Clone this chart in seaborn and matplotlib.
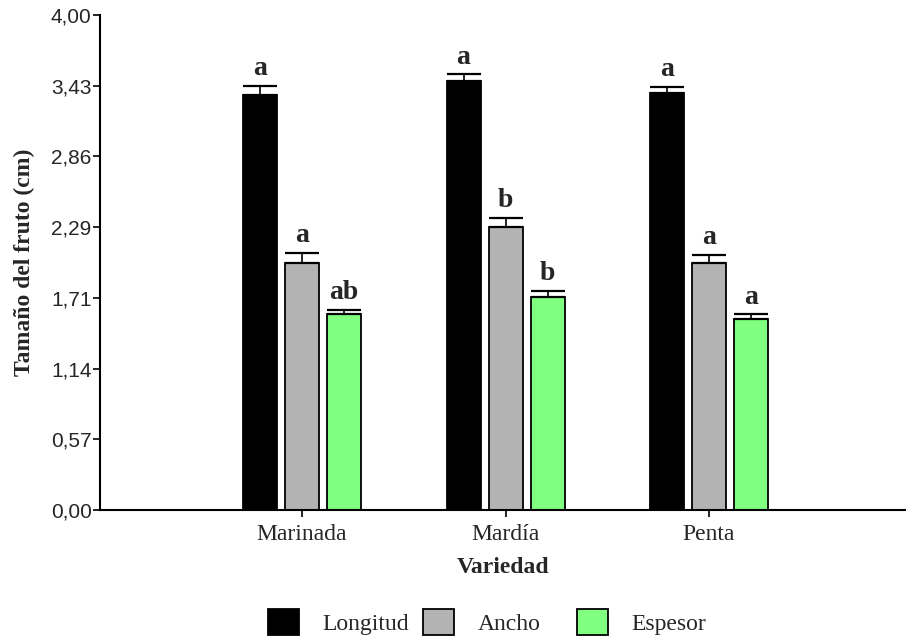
import numpy as np
import pandas as pd
import matplotlib
matplotlib.use('Agg')
import matplotlib.pyplot as plt
import seaborn as sns
from matplotlib.patches import Patch

variedades = ['Marinada', 'Mardía', 'Penta']
medidas = ['Longitud', 'Ancho', 'Espesor']

# mean values (cm) per medida, in the order of variedades
longitud = [3.35, 3.47, 3.37]
ancho = [2.00, 2.29, 2.00]
espesor = [1.58, 1.72, 1.54]

# standard error (upper half only is drawn)
err_longitud = [0.08, 0.05, 0.05]
err_ancho = [0.08, 0.07, 0.06]
err_espesor = [0.04, 0.05, 0.04]

# letters of mean separation
let_longitud = ['a', 'a', 'a']
let_ancho = ['a', 'b', 'a']
let_espesor = ['ab', 'b', 'a']

y_ticks = np.linspace(0, 4, 8)
y_ticklabels = [f'{t:.2f}'.replace('.', ',') for t in y_ticks]

colores = {'Longitud': '#000000', 'Ancho': '#b3b3b3', 'Espesor': '#80ff80'}

df = pd.DataFrame({
    'Variedad': variedades * 3,
    'Medida': np.repeat(medidas, 3),
    'Valor': longitud + ancho + espesor,
})
errores = [err_longitud, err_ancho, err_espesor]
letras = [let_longitud, let_ancho, let_espesor]

sns.set_style('white')
serif = ['Liberation Serif', 'DejaVu Serif']
sans = ['Liberation Sans', 'DejaVu Sans']
plt.rcParams['font.family'] = sans

fig = plt.figure(figsize=(9.06, 6.39), dpi=100)
ax = fig.add_axes([100 / 906, 1 - 510 / 639, 806 / 906, 495 / 639])

sns.barplot(
    data=df, x='Variedad', y='Valor', hue='Medida',
    order=variedades, hue_order=medidas, palette=colores, saturation=1,
    width=0.619, gap=0.19, edgecolor='black', linewidth=1.3,
    errorbar=None, legend=False, ax=ax
)

for cont, errs, lets in zip(ax.containers, errores, letras):
    for bar, e, l in zip(cont, errs, lets):
        x = bar.get_x() + bar.get_width() / 2
        top = bar.get_height()
        ax.errorbar(x, top, yerr=[[0], [e]], color='black', lw=1.2,
                    capsize=12, capthick=1.6, fmt='none', zorder=3)
        ax.annotate(l, (x, top + e), xytext=(0, 3.5), textcoords='offset points',
                    ha='center', va='bottom', fontsize=20, fontweight='bold',
                    family=serif)

ax.set_xlim(-0.993, 2.968)
ax.set_ylim(0, 4)
ax.set_yticks(y_ticks)
ax.set_yticklabels(y_ticklabels, fontsize=15, family=sans)
ax.set_xticks(range(len(variedades)))
ax.set_xticklabels(variedades, fontsize=17, family=serif)

for side in ['top', 'right']:
    ax.spines[side].set_visible(False)
for side in ['left', 'bottom']:
    ax.spines[side].set_linewidth(1.5)
    ax.spines[side].set_color('black')
ax.tick_params(axis='both', which='major', direction='out', length=5,
               width=1.2, color='black', left=True, bottom=True)
ax.tick_params(axis='y', pad=1)
ax.tick_params(axis='x', pad=5)

ax.set_xlabel('Variedad', fontsize=17, fontweight='bold', family=serif, labelpad=9)
ax.set_ylabel('Tamaño del fruto (cm)', fontsize=17, fontweight='bold', family=serif,
              labelpad=11)

# legend entries placed individually so they are evenly spaced
leg_x = [268 / 906, 423 / 906, 577 / 906]
for med, lx in zip(medidas, leg_x):
    h = Patch(facecolor=colores[med], edgecolor='black', linewidth=1.3)
    lg = fig.legend(handles=[h], labels=[med], loc='center left',
                    bbox_to_anchor=(lx, 1 - 622 / 639), frameon=False,
                    handlelength=1.3, handleheight=1.3, handletextpad=1.0,
                    borderpad=0, borderaxespad=0, prop={'family': serif, 'size': 17})

fig.savefig('out.png', dpi=100)
